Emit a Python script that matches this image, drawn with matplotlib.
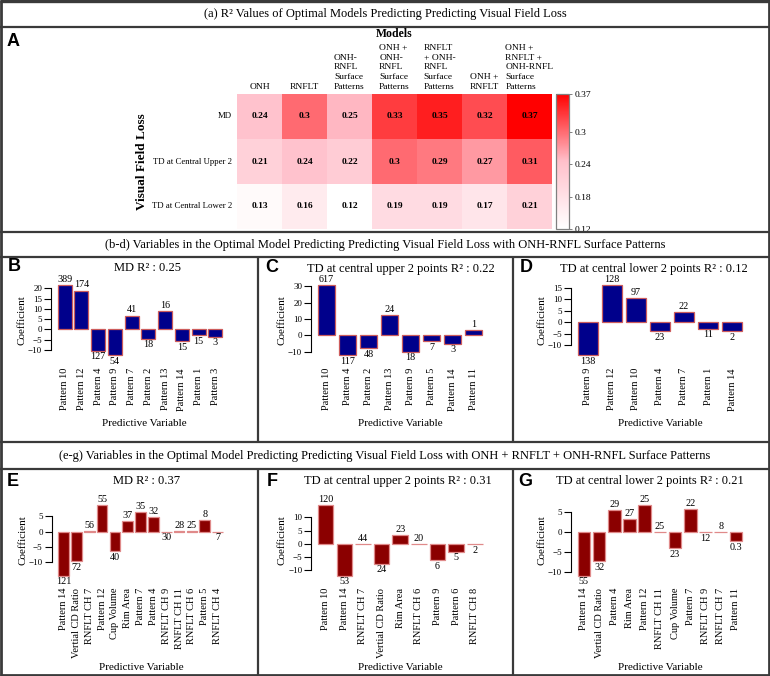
import matplotlib
matplotlib.use('Agg')
import matplotlib.pyplot as plt
import numpy as np
from matplotlib.colors import LinearSegmentedColormap, Normalize
from matplotlib.lines import Line2D
import matplotlib.cm as cm

plt.rcParams['font.family'] = ['Liberation Serif', 'DejaVu Serif']

# ---------------- data ----------------
hm_models = ["ONH", "RNFLT", "ONH-\nRNFL\nSurface\nPatterns",
             "ONH +\nONH-\nRNFL\nSurface\nPatterns",
             "RNFLT\n+ ONH-\nRNFL\nSurface\nPatterns",
             "ONH +\nRNFLT",
             "ONH +\nRNFLT +\nONH-RNFL\nSurface\nPatterns"]
hm_rows = ["MD", "TD at Central Upper 2", "TD at Central Lower 2"]
hm_md = [0.24, 0.3, 0.25, 0.33, 0.35, 0.32, 0.37]
hm_upper = [0.21, 0.24, 0.22, 0.3, 0.29, 0.27, 0.31]
hm_lower = [0.13, 0.16, 0.12, 0.19, 0.19, 0.17, 0.21]
cbar_ticks = [0.12, 0.18, 0.24, 0.3, 0.37]
cbar_labels = ["0.12", "0.18", "0.24", "0.3", "0.37"]

b_vars = ["Pattern 10", "Pattern 12", "Pattern 4", "Pattern 9", "Pattern 7",
          "Pattern 2", "Pattern 13", "Pattern 14", "Pattern 1", "Pattern 3"]
b_coef = [21.5, 18.9, -10.4, -12.8, 6.7, -4.6, 9.1, -5.9, -2.9, -3.6]
b_count = ["389", "174", "127", "54", "41", "18", "16", "15", "15", "3"]
b_yticks = [-10, -5, 0, 5, 10, 15, 20]

c_vars = ["Pattern 10", "Pattern 4", "Pattern 2", "Pattern 13", "Pattern 9",
          "Pattern 5", "Pattern 14", "Pattern 11"]
c_coef = [30.6, -12.2, -7.9, 12.4, -9.9, -3.4, -4.9, 3.2]
c_count = ["617", "117", "48", "24", "18", "7", "3", "1"]
c_yticks = [-10, 0, 10, 20, 30]

d_vars = ["Pattern 9", "Pattern 12", "Pattern 10", "Pattern 4", "Pattern 7",
          "Pattern 1", "Pattern 14"]
d_coef = [-14.5, 16.1, 10.4, -3.9, 4.6, -2.8, -3.9]
d_count = ["138", "128", "97", "23", "22", "11", "2"]
d_yticks = [-10, -5, 0, 5, 10, 15]

e_vars = ["Pattern 14", "Vertial CD Ratio", "RNFLT CH 7", "Pattern 12",
          "Cup Volume", "Rim Area", "Pattern 7", "Pattern 4", "RNFLT CH 9",
          "RNFLT CH 11", "RNFLT CH 6", "Pattern 5", "RNFLT CH 4"]
e_coef = [-14.6, -9.9, 0.05, 8.7, -6.4, 3.6, 6.4, 4.9, -0.05, 0.05, 0.05, 3.7, -0.05]
e_count = ["121", "72", "56", "55", "40", "37", "35", "32", "30", "28", "25", "8", "7"]
e_yticks = [-10, -5, 0, 5]

f_vars = ["Pattern 10", "Pattern 14", "RNFLT CH 7", "Vertial CD Ratio",
          "Rim Area", "RNFLT CH 6", "Pattern 9", "Pattern 6", "RNFLT CH 8"]
f_coef = [14.6, -12.0, 0.05, -7.5, 3.5, 0.05, -6.1, -2.9, -0.05]
f_count = ["120", "53", "44", "24", "23", "20", "6", "5", "2"]
f_yticks = [-10, -5, 0, 5, 10]

g_vars = ["Pattern 14", "Vertial CD Ratio", "Pattern 4", "Rim Area",
          "Pattern 12", "RNFLT CH 11", "Cup Volume", "Pattern 7",
          "RNFLT CH 9", "RNFLT CH 7", "Pattern 11"]
g_coef = [-10.9, -7.3, 5.6, 3.25, 6.75, 0.05, -4.0, 5.8, -0.05, 0.05, -2.25]
g_count = ["55", "32", "29", "27", "25", "25", "23", "22", "12", "8", "0.3"]
g_yticks = [-10, -5, 0, 5]

# ---------------- helpers ----------------
W, H = 770, 676
fig = plt.figure(figsize=(W / 100, H / 100), dpi=100)


def rect(x0, y0, x1, y1):
    return [x0 / W, 1 - y1 / H, (x1 - x0) / W, (y1 - y0) / H]


def ftext(x, y, s, **kw):
    return fig.text(x / W, 1 - y / H, s, **kw)


FRAME = '#3a3a3a'


def line(x0, y0, x1, y1, lw=1.6):
    fig.add_artist(Line2D([x0 / W, x1 / W], [1 - y0 / H, 1 - y1 / H],
                          color=FRAME, lw=lw, transform=fig.transFigure,
                          solid_capstyle='butt'))


# frame
line(1, 0, 1, H, 2.0)
line(W - 1, 0, W - 1, H, 2.0)
line(0, 1, W, 1, 2.4)
line(0, H - 1, W, H - 1, 2.0)
for yy in [27, 232, 257, 442, 469]:
    line(0, yy, W, yy)
for xx in [258, 513]:
    line(xx, 257, xx, 442)
    line(xx, 469, xx, H)

# headers
ftext(385, 14, "(a) R² Values of Optimal Models Predicting Predicting Visual Field Loss",
      ha='center', va='center', fontsize=9)
ftext(385, 245, "(b-d) Variables in the Optimal Model Predicting Predicting Visual Field Loss with ONH-RNFL Surface Patterns",
      ha='center', va='center', fontsize=9)
ftext(385, 456, "(e-g) Variables in the Optimal Model Predicting Predicting Visual Field Loss with ONH + RNFLT + ONH-RNFL Surface Patterns",
      ha='center', va='center', fontsize=9)

# panel letters
for letter, (lx, ly) in {"A": (7, 46), "B": (8, 271), "C": (265, 272), "D": (520, 272),
                         "E": (7, 486), "F": (267, 486), "G": (518, 486)}.items():
    ftext(lx, ly, letter, ha='left', va='baseline', fontsize=13, fontweight='bold',
          family=['Liberation Sans', 'DejaVu Sans'])

# ---------------- heatmap ----------------
cmap = LinearSegmentedColormap.from_list('wpr', ['#FFFFFF', '#FFC0CB', '#FF0000'])
norm = Normalize(vmin=0.12, vmax=0.37)
hm = np.array([hm_md, hm_upper, hm_lower])
hx0, hx1, hy0, hy1 = 237, 552, 94, 229
axh = fig.add_axes(rect(hx0, hy0, hx1, hy1))
axh.imshow(hm, cmap=cmap, norm=norm, aspect='auto', interpolation='nearest')
axh.set_xticks([])
axh.set_yticks([])
for s in axh.spines.values():
    s.set_visible(False)
for i in range(hm.shape[0]):
    for j in range(hm.shape[1]):
        axh.text(j, i, f"{hm[i, j]:g}", ha='center', va='center',
                 fontsize=6.8, fontweight='bold')
colw = (hx1 - hx0) / len(hm_models)
for j, lab in enumerate(hm_models):
    ftext(hx0 + colw * (j + 0.5), 91, lab, ha='center', va='bottom',
          multialignment='left', fontsize=6.8, linespacing=1.3)
rowh = (hy1 - hy0) / len(hm_rows)
for i, lab in enumerate(hm_rows):
    ftext(232, hy0 + rowh * (i + 0.5), lab, ha='right', va='center', fontsize=6.3)
ftext((hx0 + hx1) / 2, 34, "Models", ha='center', va='center', fontsize=8.5,
      fontweight='bold')
ftext(142, (hy0 + hy1) / 2, "Visual Field Loss", ha='center', va='center',
      rotation=90, fontsize=9.5, fontweight='bold')

cax = fig.add_axes(rect(556, hy0, 569, hy1))
cb = fig.colorbar(cm.ScalarMappable(norm=norm, cmap=cmap), cax=cax)
cb.set_ticks(cbar_ticks)
cb.set_ticklabels(cbar_labels)
cb.outline.set_edgecolor('#808080')
cb.outline.set_linewidth(0.9)
cax.tick_params(length=2.5, width=0.7, color='#808080', labelsize=6.8, pad=1.5)

# ---------------- bar panels ----------------
PW = 177.8


def bar_panel(xl, yt, yb, names, coefs, counts, yticks, face, edge, xpad,
              title, tx, ty, xlx, xly):
    n = len(names)
    ax = fig.add_axes(rect(xl, yt, xl + PW, yb))
    pos = 0.2 + 1.2 * np.arange(n) + 0.5
    ax.bar(pos, coefs, width=1.0, color=face, edgecolor=edge, linewidth=0.9)
    span = 1.2 * n - 0.2
    ax.set_xlim(0.2 - 0.04 * span, 1.2 * n + 0.04 * span)
    lo, hi = min(min(coefs), 0), max(max(coefs), 0)
    r = hi - lo
    ax.set_ylim(lo - 0.04 * r, hi + 0.04 * r)
    for p, v, c in zip(pos, coefs, counts):
        if v >= 0:
            ax.annotate(c, (p, v), xytext=(0, 0.8), textcoords='offset points',
                        ha='center', va='bottom', fontsize=7.3)
        else:
            ax.annotate(c, (p, v), xytext=(0, -1.2), textcoords='offset points',
                        ha='center', va='top', fontsize=7.3)
    for s in ['top', 'right', 'bottom']:
        ax.spines[s].set_visible(False)
    ax.spines['left'].set_bounds(yticks[0], yticks[-1])
    ax.spines['left'].set_linewidth(0.8)
    ax.set_yticks(yticks)
    ax.tick_params(axis='y', length=5, width=0.8, labelsize=6.5, pad=1.5)
    ax.set_xticks(pos)
    ax.set_xticklabels(names, rotation=90, fontsize=7.5)
    ax.tick_params(axis='x', length=0, pad=xpad)
    ax.patch.set_alpha(0)
    ftext(xl - 29, (yt + yb) / 2, "Coefficient", rotation=90, ha='center',
          va='center', fontsize=8)
    ftext(tx, ty, title, ha='center', va='baseline', fontsize=9)
    ftext(xlx, xly, "Predictive Variable", ha='center', va='center', fontsize=8)
    return ax


NAVY, NAVY_E = '#00008B', '#CD5C5C'
DRED, DRED_E = '#8B0000', '#E08A8A'
TY0, TY1 = 282.4, 358.3
BY0, BY1 = 502.5, 578.5

bar_panel(51.1, TY0, TY1, b_vars, b_coef, b_count, b_yticks, NAVY, NAVY_E, 7,
          "MD R² : 0.25", 148, 271, 144, 424)
bar_panel(311.1, TY0, TY1, c_vars, c_coef, c_count, c_yticks, NAVY, NAVY_E, 7,
          "TD at central upper 2 points R² : 0.22", 401, 272, 400, 423)
bar_panel(571.0, TY0, TY1, d_vars, d_coef, d_count, d_yticks, NAVY, NAVY_E, 7,
          "TD at central lower 2 points R² : 0.12", 654, 272, 660, 423)

bar_panel(51.7, BY0, BY1, e_vars, e_coef, e_count, e_yticks, DRED, DRED_E, 6.6,
          "MD R² : 0.37", 147, 484, 141, 668)
bar_panel(311.3, BY0, BY1, f_vars, f_coef, f_count, f_yticks, DRED, DRED_E, 6.6,
          "TD at central upper 2 points R² : 0.31", 398, 484, 400, 668)
bar_panel(571.0, BY0, BY1, g_vars, g_coef, g_count, g_yticks, DRED, DRED_E, 6.6,
          "TD at central lower 2 points R² : 0.21", 650, 484, 660, 668)

fig.savefig('out.png', dpi=100)
